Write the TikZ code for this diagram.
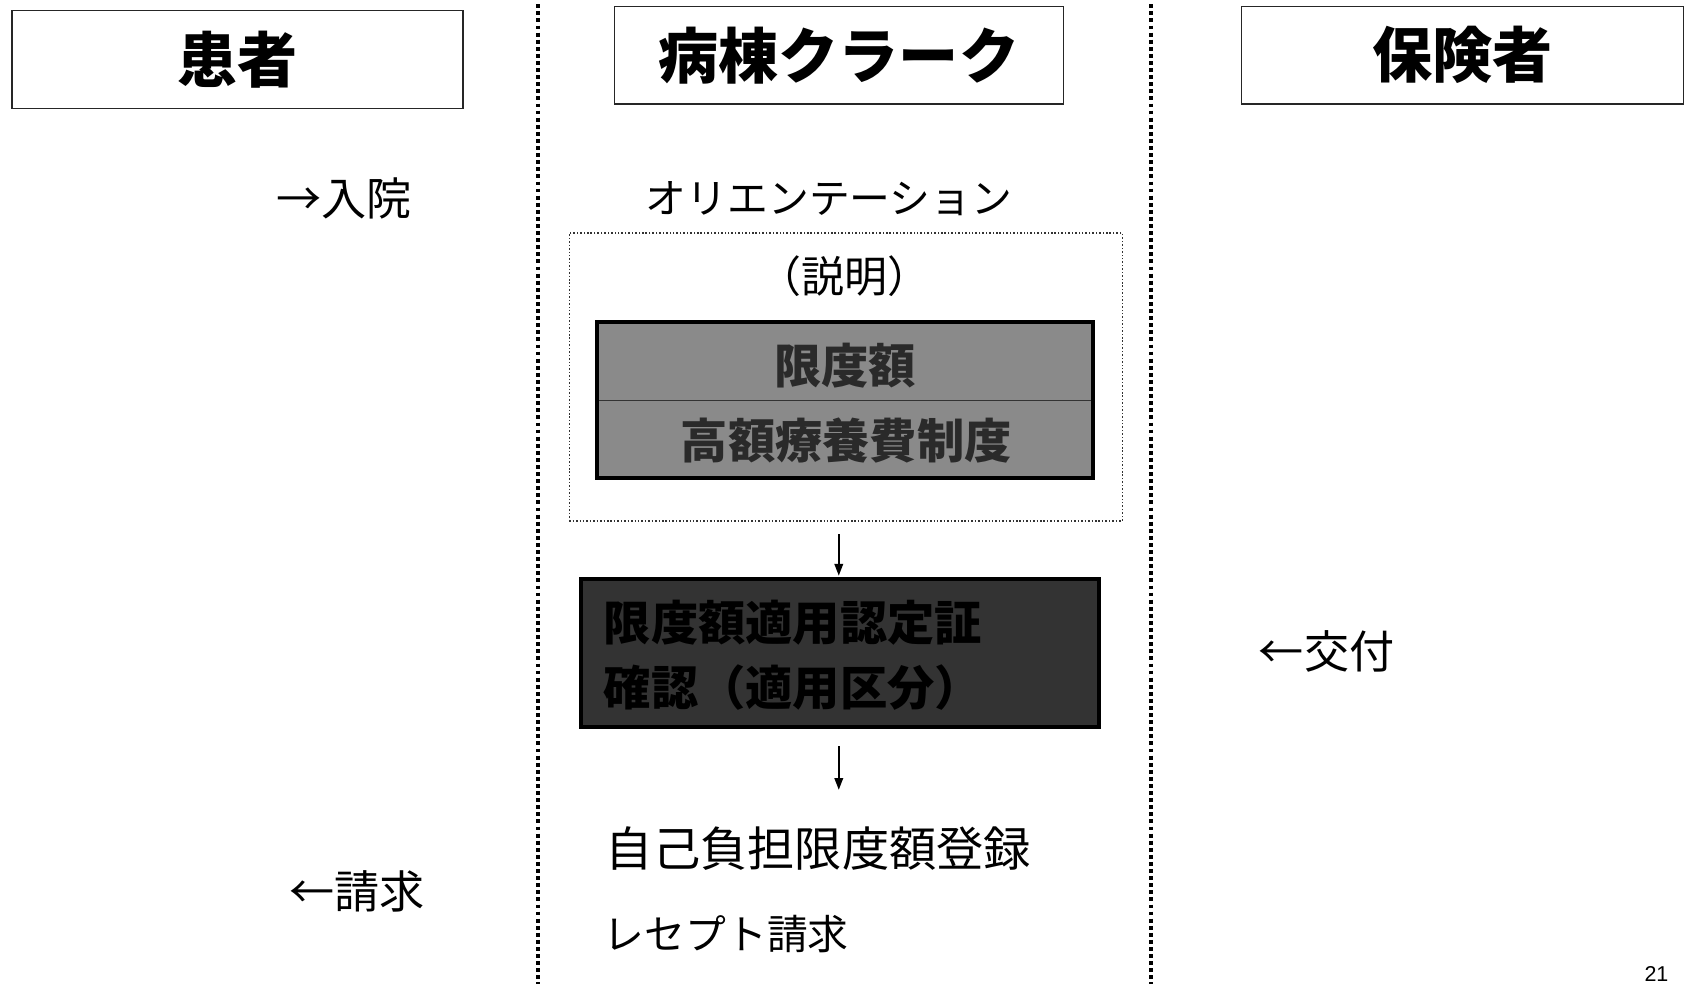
\documentclass[tikz,border=0pt]{standalone}
\usepackage{fontspec}
\setmainfont{Liberation Sans}
\newfontfamily\jp{Noto Sans CJK JP}
\usetikzlibrary{arrows.meta,calc}
\definecolor{gmid}{HTML}{8A8A8A}
\definecolor{gdark}{HTML}{333333}
\definecolor{gtext}{HTML}{2A2A2A}
\tikzset{
  hdr/.style={draw=black!85, line width=1.3pt, fill=white, inner sep=0pt},
  hdrtext/.style={font=\jp\bfseries\fontsize{56}{60}\selectfont},
  lane/.style={line width=3.6pt, dash pattern=on 3.6pt off 3pt},
  txt/.style={inner sep=0pt, font=\jp\fontsize{42}{48}\selectfont},
  dotbox/.style={draw=black!80, line width=1.2pt, dash pattern=on 1.4pt off 1.8pt},
  graybox/.style={draw=black, line width=4pt, inner sep=0pt},
  flow/.style={line width=1.6pt, -{Triangle[length=11pt,width=8pt]}}
}
\begin{document}
\begin{tikzpicture}[x=1pt,y=-1pt]
\useasboundingbox (0,0) rectangle (1568,916);
\fill[white] (0,0) rectangle (1568,916);
\clip (0,0) rectangle (1568,916);

% lane separators
\coordinate (l1t) at (501,4);
\coordinate (l1b) at (501,916);
\coordinate (l2t) at (1072,4);
\coordinate (l2b) at (1072,916);
\draw[lane] (l1t) -- (l1b);
\draw[lane] (l2t) -- (l2b);

% headers
\node[hdr, minimum width=420pt, minimum height=91pt] (h1) at (221,55.5) {};
\node[hdrtext] (h1t) at (h1.center) {患者};
\node[hdr, minimum width=418pt, minimum height=91pt] (h2) at (781,51.5) {};
\node[hdrtext] (h2t) at (h2.center) {病棟クラーク};
\node[hdr, minimum width=412pt, minimum height=91pt] (h3) at (1362,51.5) {};
\node[hdrtext] (h3t) at (h3.center) {保険者};

% patient column
\node[txt, anchor=west] (nyuin) at (257,185) {→入院};
\node[txt, anchor=west] (seikyu) at (269,830) {←請求};

% insurer column
\node[txt, anchor=west] (kofu) at (1172,607) {←交付};

% clerk column
\node[txt, font=\jp\fontsize{38}{44}\selectfont] (orient) at (772,185) {オリエンテーション};
\node[dotbox, minimum width=515pt, minimum height=268pt, inner sep=0pt] (expl) at (787.5,351) {};
\node[txt, font=\jp\fontsize{40}{46}\selectfont] (setsu) at (786,257) {（説明）};

\node[graybox, fill=gmid, minimum width=462pt, minimum height=145pt] (gb1) at (787,372.5) {};
\coordinate (divl) at (558,373);
\coordinate (divr) at (1016,373);
\draw[black!80, line width=1.2pt] (divl) -- (divr);
\node[txt, text=gtext, font=\jp\bfseries\fontsize{44}{48}\selectfont] (gendo) at (787,340) {限度額};
\node[txt, text=gtext, font=\jp\bfseries\fontsize{44}{48}\selectfont] (kogaku) at (788,410) {高額療養費制度};

\node[graybox, fill=gdark, minimum width=482pt, minimum height=138pt] (gb2) at (782,608) {};
\node[txt, anchor=west, text=black, font=\jp\bfseries\fontsize{44}{48}\selectfont] (nintei) at (562,580) {限度額適用認定証};
\node[txt, anchor=west, text=black, font=\jp\bfseries\fontsize{44}{48}\selectfont] (kakunin) at (562,640) {確認（適用区分）};

\node[txt, anchor=west, font=\jp\fontsize{44}{50}\selectfont] (toroku) at (564,790) {自己負担限度額登録};
\node[txt, anchor=west, font=\jp\fontsize{38}{44}\selectfont] (rece) at (562,870) {レセプト請求};

\draw[flow, shorten <=12pt, shorten >=1pt] (expl.south -| 781,0) -- (gb2.north -| 781,0);
\draw[flow, shorten <=16pt, shorten >=34pt] (gb2.south -| 781,0) -- (toroku.north -| 781,0);

% page number
\node[anchor=south west, inner sep=0pt, font=\fontsize{20}{24}\selectfont] (pg) at (1531,914) {21};
\end{tikzpicture}
\end{document}
